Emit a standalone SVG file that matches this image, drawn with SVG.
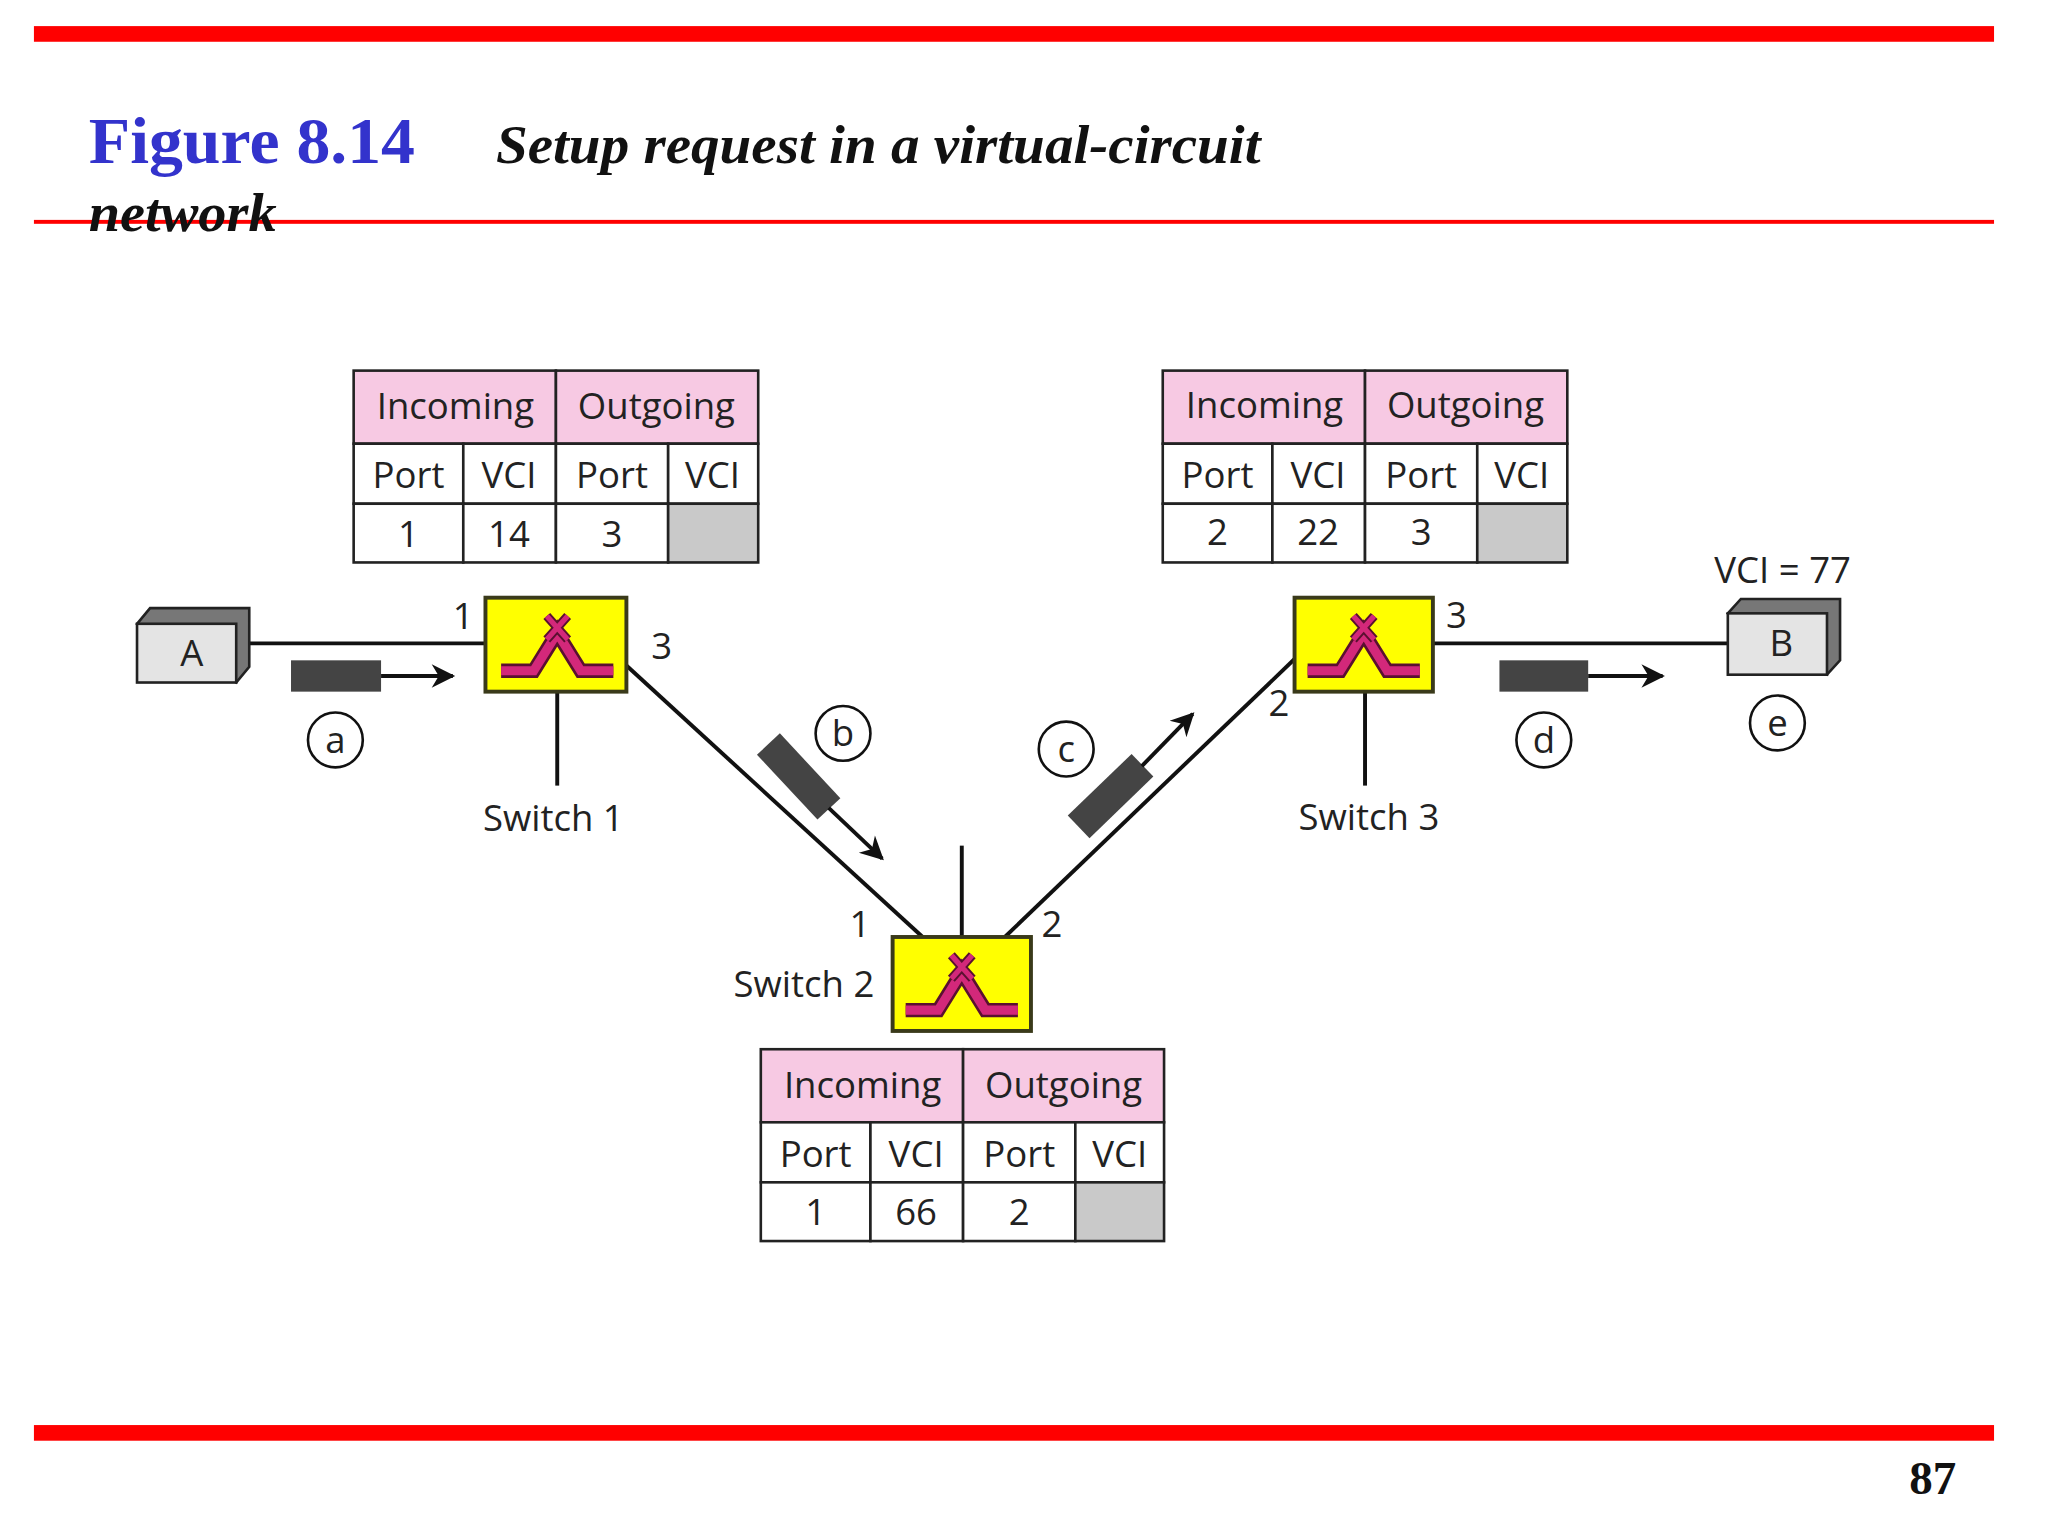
<svg xmlns="http://www.w3.org/2000/svg" width="2048" height="1536" viewBox="0 0 2048 1536">
<defs>
<style>
.t{font-family:"Open Sans","DejaVu Sans",sans-serif;font-size:28px;fill:#222;text-anchor:middle}
.ln{stroke:#111;stroke-width:3;fill:none}
.cell{fill:#fff;stroke:#222;stroke-width:2}
.hd{fill:#f7c9e3;stroke:#222;stroke-width:2}
.gr{fill:#c9c9c9;stroke:#222;stroke-width:2}
.sw{fill:#ffff00;stroke:#3a3a1a;stroke-width:3}
.pk{fill:#444}
.cir{fill:#fff;stroke:#111;stroke-width:2}
</style>
<marker id="ar" viewBox="0 0 10 10" refX="9" refY="5" markerWidth="28" markerHeight="18" markerUnits="userSpaceOnUse" orient="auto">
<path d="M0,0 L10,5 L0,10 L3,5 Z" fill="#111"/>
</marker>
<g id="icon">
<path d="M-43,22 L-18,22 L0,-7 L18,22 L43,22" fill="none" stroke="#5a1030" stroke-width="11" stroke-linejoin="miter"/>
<path d="M-43,22 L-18,22 L0,-7 L18,22 L43,22" fill="none" stroke="#d3287a" stroke-width="7"/>
<path d="M-8,-20 L8,-2 M8,-20 L-8,-2" stroke="#5a1030" stroke-width="7"/>
<path d="M-8,-20 L8,-2 M8,-20 L-8,-2" stroke="#d3287a" stroke-width="4"/>
</g>
</defs>
<rect width="2048" height="1536" fill="#fff"/>
<g transform="scale(1.305)">
<g id="header">
<rect x="26" y="20" width="1502" height="12" fill="#ff0000"/>
<rect x="26" y="168.5" width="1502" height="3" fill="#ff0000"/>
<rect x="26" y="1092" width="1502" height="12" fill="#ff0000"/>
<text x="68" y="125" font-family="Liberation Serif,serif" font-weight="bold" font-size="51" fill="#3333cc" textLength="250" lengthAdjust="spacingAndGlyphs">Figure 8.14</text>
<text x="380" y="125" font-family="Liberation Serif,serif" font-weight="bold" font-style="italic" font-size="42" fill="#111" textLength="586" lengthAdjust="spacingAndGlyphs">Setup request in a virtual-circuit</text>
<text x="68" y="177" font-family="Liberation Serif,serif" font-weight="bold" font-style="italic" font-size="42" fill="#111" textLength="144" lengthAdjust="spacingAndGlyphs">network</text>
<text x="1499" y="1145" font-family="Liberation Serif,serif" font-weight="bold" font-size="36" fill="#111" text-anchor="end">87</text>
</g>
<g id="connectors">
<line class="ln" x1="191" y1="493" x2="372" y2="493"/>
<line class="ln" x1="427" y1="530" x2="427" y2="602"/>
<line class="ln" x1="480" y1="510" x2="707" y2="718"/>
<line class="ln" x1="737" y1="648" x2="737" y2="718"/>
<line class="ln" x1="770" y1="718" x2="992" y2="505"/>
<line class="ln" x1="1046" y1="530" x2="1046" y2="602"/>
<line class="ln" x1="1098" y1="493" x2="1324" y2="493"/>
</g>
<g id="packets">
<rect class="pk" x="223" y="506" width="69" height="24"/>
<line class="ln" x1="292" y1="518" x2="347" y2="518" marker-end="url(#ar)"/>
<rect class="pk" x="1149" y="506" width="68" height="24"/>
<line class="ln" x1="1217" y1="518" x2="1274" y2="518" marker-end="url(#ar)"/>
<g transform="translate(612,595) rotate(47)"><rect class="pk" x="-34" y="-12" width="68" height="24"/></g>
<line class="ln" x1="635" y1="619" x2="676" y2="658" marker-end="url(#ar)"/>
<g transform="translate(851,610) rotate(-44)"><rect class="pk" x="-34" y="-12" width="68" height="24"/></g>
<line class="ln" x1="875" y1="587" x2="914" y2="547" marker-end="url(#ar)"/>
</g>
<g id="hostA">
<path d="M105,478 L115,466 L191,466 L191,511 L181,523 Z" fill="#777" stroke="#222" stroke-width="2"/>
<rect x="105" y="478" width="76" height="45" fill="#e4e4e4" stroke="#222" stroke-width="2"/>
<text class="t" x="147" y="510">A</text>
</g>
<g id="hostB">
<path d="M1324,470 L1334,459 L1410,459 L1410,506 L1400,517 Z" fill="#777" stroke="#222" stroke-width="2"/>
<rect x="1324" y="470" width="76" height="47" fill="#e4e4e4" stroke="#222" stroke-width="2"/>
<text class="t" x="1365" y="503">B</text>
<text class="t" x="1366" y="447">VCI = 77</text>
</g>
<g id="switch1">
<rect class="sw" x="372" y="458" width="108" height="72"/>
<use href="#icon" transform="translate(427,492)"/>
<text class="t" x="424" y="637">Switch 1</text>
<text class="t" x="355" y="482">1</text>
<text class="t" x="507" y="505">3</text>
</g>
<g id="switch2">
<rect class="sw" x="684" y="718" width="106" height="72"/>
<use href="#icon" transform="translate(737,752)"/>
<text class="t" x="616" y="764">Switch 2</text>
<text class="t" x="659" y="718">1</text>
<text class="t" x="806" y="718">2</text>
</g>
<g id="switch3">
<rect class="sw" x="992" y="458" width="106" height="72"/>
<use href="#icon" transform="translate(1045,492)"/>
<text class="t" x="1049" y="636">Switch 3</text>
<text class="t" x="980" y="549">2</text>
<text class="t" x="1116" y="481">3</text>
</g>
<g id="steps">
<circle class="cir" cx="257" cy="567" r="21"/><text class="t" x="257" y="577">a</text>
<circle class="cir" cx="646" cy="562" r="21"/><text class="t" x="646" y="572">b</text>
<circle class="cir" cx="817" cy="574" r="21"/><text class="t" x="817" y="584">c</text>
<circle class="cir" cx="1183" cy="567" r="21"/><text class="t" x="1183" y="577">d</text>
<circle class="cir" cx="1362" cy="554" r="21"/><text class="t" x="1362" y="564">e</text>
</g>
<g id="table1">
<rect class="hd" x="271" y="284" width="155" height="56"/><rect class="hd" x="426" y="284" width="155" height="56"/>
<rect class="cell" x="271" y="340" width="84" height="46"/><rect class="cell" x="355" y="340" width="71" height="46"/><rect class="cell" x="426" y="340" width="86" height="46"/><rect class="cell" x="512" y="340" width="69" height="46"/>
<rect class="cell" x="271" y="386" width="84" height="45"/><rect class="cell" x="355" y="386" width="71" height="45"/><rect class="cell" x="426" y="386" width="86" height="45"/><rect class="gr" x="512" y="386" width="69" height="45"/>
<text class="t" x="349" y="321">Incoming</text><text class="t" x="503" y="321">Outgoing</text>
<text class="t" x="313" y="374">Port</text><text class="t" x="390" y="374">VCI</text><text class="t" x="469" y="374">Port</text><text class="t" x="546" y="374">VCI</text>
<text class="t" x="313" y="419">1</text><text class="t" x="390" y="419">14</text><text class="t" x="469" y="419">3</text>
</g>
<g id="table3">
<rect class="hd" x="891" y="284" width="155" height="56"/><rect class="hd" x="1046" y="284" width="155" height="56"/>
<rect class="cell" x="891" y="340" width="84" height="46"/><rect class="cell" x="975" y="340" width="71" height="46"/><rect class="cell" x="1046" y="340" width="86" height="46"/><rect class="cell" x="1132" y="340" width="69" height="46"/>
<rect class="cell" x="891" y="386" width="84" height="45"/><rect class="cell" x="975" y="386" width="71" height="45"/><rect class="cell" x="1046" y="386" width="86" height="45"/><rect class="gr" x="1132" y="386" width="69" height="45"/>
<text class="t" x="969" y="320">Incoming</text><text class="t" x="1123" y="320">Outgoing</text>
<text class="t" x="933" y="374">Port</text><text class="t" x="1010" y="374">VCI</text><text class="t" x="1089" y="374">Port</text><text class="t" x="1166" y="374">VCI</text>
<text class="t" x="933" y="418">2</text><text class="t" x="1010" y="418">22</text><text class="t" x="1089" y="418">3</text>
</g>
<g id="table2">
<rect class="hd" x="583" y="804" width="155" height="56"/><rect class="hd" x="738" y="804" width="154" height="56"/>
<rect class="cell" x="583" y="860" width="84" height="46"/><rect class="cell" x="667" y="860" width="71" height="46"/><rect class="cell" x="738" y="860" width="86" height="46"/><rect class="cell" x="824" y="860" width="68" height="46"/>
<rect class="cell" x="583" y="906" width="84" height="45"/><rect class="cell" x="667" y="906" width="71" height="45"/><rect class="cell" x="738" y="906" width="86" height="45"/><rect class="gr" x="824" y="906" width="68" height="45"/>
<text class="t" x="661" y="841">Incoming</text><text class="t" x="815" y="841">Outgoing</text>
<text class="t" x="625" y="894">Port</text><text class="t" x="702" y="894">VCI</text><text class="t" x="781" y="894">Port</text><text class="t" x="858" y="894">VCI</text>
<text class="t" x="625" y="939">1</text><text class="t" x="702" y="939">66</text><text class="t" x="781" y="939">2</text>
</g>
</g>
</svg>
